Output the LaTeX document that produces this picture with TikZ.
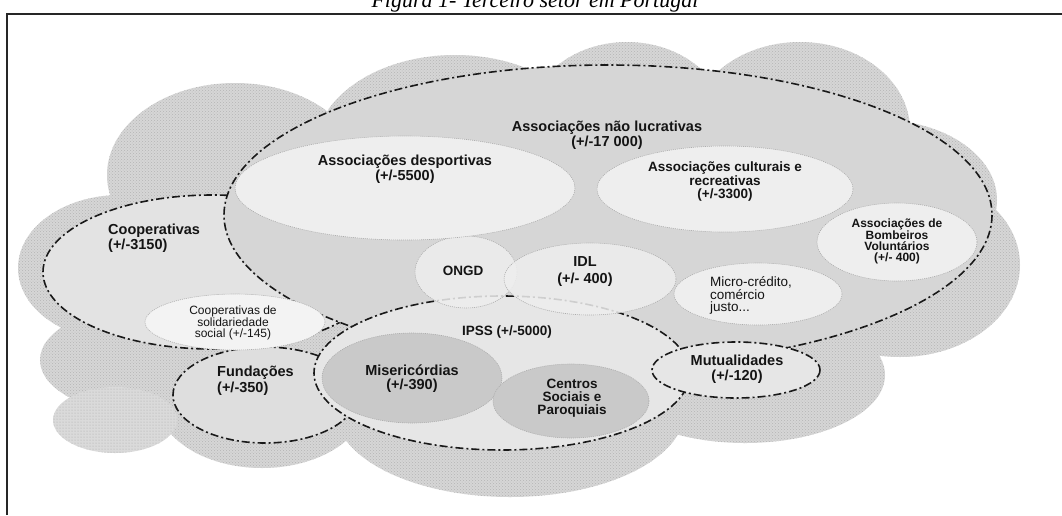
\documentclass[tikz,border=0pt]{standalone}
\usepackage{fontspec}
\setmainfont{Liberation Serif}
\setsansfont{Liberation Sans}
\usetikzlibrary{patterns}

\definecolor{cloudbase}{HTML}{D6D6D6}
\definecolor{clouddot}{HTML}{B4B4B4}
\definecolor{lowbase}{HTML}{DADADA}
\definecolor{lowdot}{HTML}{A8A8A8}
\definecolor{anlfill}{HTML}{D6D6D6}
\definecolor{coopfill}{HTML}{E3E3E3}
\definecolor{fundfill}{HTML}{DEDEDE}
\definecolor{ipssfill}{HTML}{E6E6E6}
\definecolor{mutfill}{HTML}{E6E6E6}
\definecolor{lightfill}{HTML}{EEEEEE}
\definecolor{whitefill}{HTML}{F3F3F3}
\definecolor{darkfill}{HTML}{C9C9C9}
\definecolor{inktext}{HTML}{141414}

\begin{document}
\begin{tikzpicture}[x=1pt,y=-1pt,
  sectorline/.style={draw=black!90, line width=1.6pt,
    dash pattern=on 8pt off 3pt on 2pt off 3pt},
  subline/.style={draw=gray!65, line width=0.6pt, dash pattern=on 1pt off 1pt},
  boldlbl/.style={font=\sffamily\bfseries\fontsize{14.5}{15}\selectfont,
    text=inktext, align=center, inner sep=0pt},
  midlbl/.style={font=\sffamily\bfseries\fontsize{13.5}{12.5}\selectfont,
    text=inktext, align=center, inner sep=0pt},
  smalllbl/.style={font=\sffamily\bfseries\fontsize{12}{11}\selectfont,
    text=inktext, align=center, inner sep=0pt},
  plainlbl/.style={font=\sffamily\fontsize{13.5}{12.5}\selectfont,
    text=inktext, align=left, inner sep=0pt},
  plainsmall/.style={font=\sffamily\fontsize{12}{11}\selectfont,
    text=inktext, align=center, inner sep=0pt},
  framerule/.style={draw=black!85, line width=2pt}]

\useasboundingbox (0,0) rectangle (1062,515);
\clip (0,0) rectangle (1062,515);

% caption, cut by the top of the page
\node[font=\itshape\fontsize{22}{24}\selectfont, anchor=base] (caption) at (535,7)
  {Figura 1- Terceiro setor em Portugal};

% frame
\coordinate (frameBL) at (7,515);
\coordinate (frameTL) at (7,14);
\coordinate (frameTR) at (1062,14);
\draw[framerule] (frameBL) -- (frameTL) -- (frameTR);

% textured cloud: union of bulges
\path[preaction={fill=cloudbase}, pattern=crosshatch dots, pattern color=clouddot]
  (120,268) ellipse [x radius=102, y radius=73]
  (150,360) ellipse [x radius=110, y radius=55]
  (262,400) ellipse [x radius=105, y radius=68]
  (510,410) ellipse [x radius=175, y radius=87]
  (745,375) ellipse [x radius=140, y radius=68]
  (900,265) ellipse [x radius=120, y radius=92]
  (880,200) ellipse [x radius=117, y radius=80]
  (800,130) ellipse [x radius=110, y radius=88]
  (627,125) ellipse [x radius=100, y radius=83]
  (455,150) ellipse [x radius=140, y radius=95]
  (235,175) ellipse [x radius=128, y radius=92]
  (560,260) ellipse [x radius=400, y radius=150];
% lower-left bulge with a finer dot texture
\path[preaction={fill=lowbase}, pattern=dots, pattern color=lowdot]
  (115,420) ellipse [x radius=62, y radius=33];

% Fundações
\path[sectorline, fill=fundfill] (265,395) ellipse [x radius=92, y radius=48];
% Cooperativas
\path[sectorline, fill=coopfill] (212,272) ellipse [x radius=169, y radius=77];
% Associações não lucrativas
\path[sectorline, fill=anlfill] (608,215) ellipse [x radius=384, y radius=150];
% Cooperativas de solidariedade social
\path[subline, fill=whitefill] (235,322) ellipse [x radius=90, y radius=28];
% IPSS
\path[sectorline, fill=ipssfill] (502,373) ellipse [x radius=188, y radius=77];
% Misericórdias and Centros Sociais e Paroquiais
\path[subline, fill=darkfill] (412,378) ellipse [x radius=90, y radius=45];
\path[subline, fill=darkfill] (571,401) ellipse [x radius=78, y radius=37];
% ONGD and IDL
\path[subline, fill=lightfill, fill opacity=0.85] (466,272) ellipse [x radius=51, y radius=36];
\path[subline, fill=lightfill, fill opacity=0.85] (590,279) ellipse [x radius=86, y radius=36];
% Mutualidades
\path[sectorline, fill=mutfill] (736,370) ellipse [x radius=84, y radius=28];
% associations inside the non-profit sector
\path[subline, fill=lightfill] (405,188) ellipse [x radius=170, y radius=52];
\path[subline, fill=lightfill] (725,189) ellipse [x radius=128, y radius=43];
\path[subline, fill=lightfill] (897,242) ellipse [x radius=80, y radius=39];
\path[subline, fill=lightfill] (758,294) ellipse [x radius=84, y radius=31];

% labels
\node[boldlbl] (anl) at (607,135.5) {Associações não lucrativas\\(+/-17 000)};
\node[boldlbl] (desp) at (405,169.5) {Associações desportivas\\(+/-5500)};
\node[midlbl] (cult) at (725,181.5) {Associações culturais e\\recreativas\\(+/-3300)};
\node[smalllbl] (bomb) at (897,241.5) {Associações de\\Bombeiros\\Voluntários\\(+/- 400)};
\node[plainlbl, anchor=west] (micro) at (710,295.5) {Micro-crédito,\\comércio\\justo...};
\node[boldlbl, font=\sffamily\bfseries\fontsize{14.5}{17}\selectfont] (idl) at (585,271.5) {IDL\\(+/- 400)};
\node[midlbl] (ongd) at (463,271) {ONGD};
\node[boldlbl, anchor=west, align=left] (coop) at (108,238.5) {Cooperativas\\(+/-3150)};
\node[plainsmall] (solid) at (233,323) {Cooperativas de\\solidariedade\\social (+/-145)};
\node[boldlbl, anchor=west, align=left, font=\sffamily\bfseries\fontsize{14.5}{16}\selectfont] (fund) at (217,381) {Fundações\\(+/-350)};
\node[midlbl] (ipss) at (507,332) {IPSS (+/-5000)};
\node[boldlbl, font=\sffamily\bfseries\fontsize{14.5}{13.5}\selectfont] (miser) at (412,378.5) {Misericórdias\\(+/-390)};
\node[midlbl, font=\sffamily\bfseries\fontsize{13.5}{13}\selectfont] (centros) at (572,398) {Centros\\Sociais e\\Paroquiais};
\node[boldlbl] (mutual) at (737,369.5) {Mutualidades\\(+/-120)};

\end{tikzpicture}
\end{document}
